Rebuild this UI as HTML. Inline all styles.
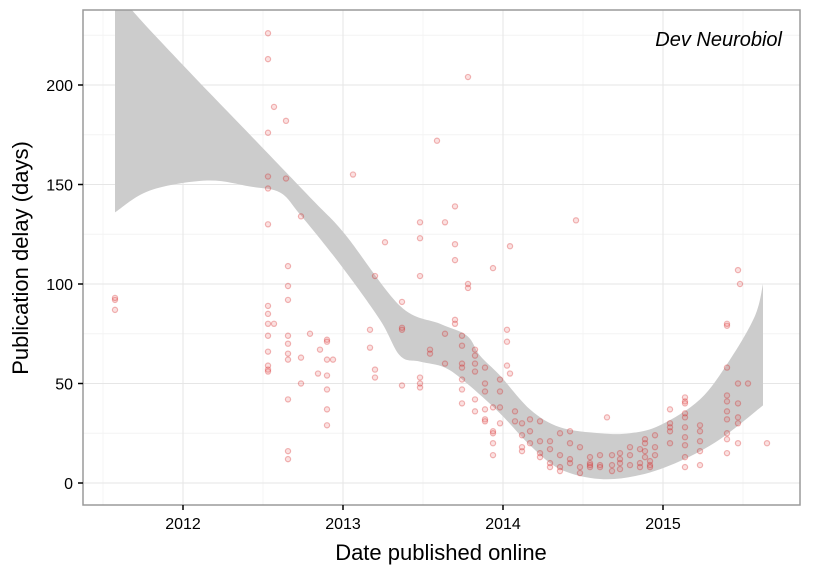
<!DOCTYPE html>
<html><head><meta charset="utf-8"><style>
body{margin:0;background:#fff;}
svg{display:block;font-family:"Liberation Sans",sans-serif;}
</style></head><body>
<svg id="chart" width="825" height="570">
<defs><clipPath id="clip"><rect x="83" y="10" width="717" height="495"/></clipPath></defs>
<g id="grid"></g>
<g id="band" clip-path="url(#clip)"></g>
<g id="pts"></g>
<rect x="83" y="10" width="717" height="495" fill="none" stroke="#9a9a9a" stroke-width="1.5"/>
<g id="axes"></g>
<text x="782" y="46" text-anchor="end" font-size="20" font-style="italic">Dev Neurobiol</text>
<text x="441" y="560" text-anchor="middle" font-size="22">Date published online</text>
<text transform="translate(28,258) rotate(-90)" text-anchor="middle" font-size="22">Publication delay (days)</text>
</svg>
<script>
const xTicks=[2012,2013,2014,2015];
const yTicks=[0,50,100,150,200];
function px(x){return (x-183)/160+2012;}
const upperPx=[115,128,183,250,313,345,400,440,467,480,500,530,560,600,630,660,700,730,755,763];
const bandUpper=[252,240,210,175,142,125,89,80,74,64,54,37,28,25,25,29,42,62,84,100];
const lowerPx=[115,150,207,250,280,300,340,380,400,420,445,467,500,530,560,600,640,680,720,763];
const bandLower=[136,147,152,149,146,135,110,82,64,61,58,50,35,19,7,2,4,11,22,39];
const upperYears=upperPx.map(px);
const lowerYears=lowerPx.map(px);
const ptX=[];const ptY=[];
const raw=[[115,[92,93,87]],[268,[226,213,176,154,148,130,89,85,80,74,57,56,59,66]],[274,[189,80]],[286,[182,153]],[288,[109,99,92,42,70,65,62,74,16,12]],[301,[134,63,50]],[310,[75]],[318,[55]],[320,[67]],[327,[72,71,62,54,47,37,29]],[333,[62]],[353,[155]],[370,[77,68]],[375,[104,57,53]],[385,[121]],[402,[91,78,77,49]],[420,[131,123,104,53,48,50]],[430,[67,65]],[437,[172]],[445,[131,75,60]],[455,[139,120,112,82,80]],[462,[74,69,60,58,52,47,40]],[468,[204,100,98]],[475,[67,64,56,36,42,60]],[485,[58,50,46,37,32,31]],[493,[108,38,26,25,20,14]],[500,[52,46,38,30]],[507,[77,71,59]],[510,[119,55]],[515,[36,31]],[522,[30,24,16,18]],[530,[32,26,20]],[540,[31,21,15,13]],[550,[21,17,10,8]],[560,[25,14,6,8]],[570,[26,20,10,12]],[576,[132]],[580,[18,8,5]],[590,[13,10,8,9]],[600,[14,9,8]],[607,[33]],[612,[14,9,6]],[620,[15,12,10,7]],[630,[18,14,9]],[640,[17,10,8]],[645,[22,20,16,13]],[650,[11,9,8]],[655,[24,18,14]],[670,[37,30,26,28,20]],[685,[43,41,40,35,33,28,23,19,13,8]],[700,[29,21,26,16,9]],[727,[80,79,58,44,41,36,32,25,22,15]],[738,[107,50,40,33,30,20]],[740,[100]],[748,[50]],[767,[20]]];
raw.forEach(r=>r[1].forEach(v=>{ptX.push(px(r[0]));ptY.push(v);}));
const NS="http://www.w3.org/2000/svg";
const L=83,R=800,T=10,B=505;
const sx=y=>183+(y-2012)*160;
const sy=v=>483-v*1.99;
function mk(tag,at,parent){const e=document.createElementNS(NS,tag);for(const k in at)e.setAttribute(k,at[k]);parent.appendChild(e);return e;}
const grid=document.getElementById('grid');
for(let i=-1;i<xTicks.length;i++){const mx=xTicks[0]+i+0.5;if(sx(mx)>L&&sx(mx)<R){const l=mk('line',{x1:sx(mx),x2:sx(mx),y1:T,y2:B,stroke:'#f4f4f4','stroke-width':1},grid);}}
for(let v=25;v<240;v+=50){const l=mk('line',{x1:L,x2:R,y1:sy(v),y2:sy(v),stroke:'#f4f4f4','stroke-width':1},grid);}
const axes=document.getElementById('axes');
xTicks.forEach(t=>{const l=mk('line',{x1:sx(t),x2:sx(t),y1:T,y2:B,stroke:'#e6e6e6','stroke-width':1},grid);
const k=mk('line',{x1:sx(t),x2:sx(t),y1:B,y2:B+5,stroke:'#000','stroke-width':1.5},axes);
const tx=mk('text',{x:sx(t),y:B+24,'text-anchor':'middle','font-size':16},axes);tx.textContent=t;});
yTicks.forEach(t=>{const l=mk('line',{x1:L,x2:R,y1:sy(t),y2:sy(t),stroke:'#e6e6e6','stroke-width':1},grid);
const k=mk('line',{x1:L-5,x2:L,y1:sy(t),y2:sy(t),stroke:'#000','stroke-width':1.5},axes);
const tx=mk('text',{x:L-10,y:sy(t)+6,'text-anchor':'end','font-size':16},axes);tx.textContent=t;});
function smooth(P,start){let d=start?'M'+P[0][0]+','+P[0][1]:'L'+P[0][0]+','+P[0][1];
for(let i=0;i<P.length-1;i++){const p0=P[i-1]||P[i],p1=P[i],p2=P[i+1],p3=P[i+2]||p2;
d+='C'+(p1[0]+(p2[0]-p0[0])/6)+','+(p1[1]+(p2[1]-p0[1])/6)+' '+(p2[0]-(p3[0]-p1[0])/6)+','+(p2[1]-(p3[1]-p1[1])/6)+' '+p2[0]+','+p2[1];}return d;}
const U=upperYears.map((y,i)=>[sx(y),sy(bandUpper[i])]);
const Lo=lowerYears.map((y,i)=>[sx(y),sy(bandLower[i])]).reverse();
const bp=mk('path',{d:smooth(U,true)+smooth(Lo,false)+'Z',fill:'#cccccc'},document.getElementById('band'));


const pts=document.getElementById('pts');
ptX.forEach((x,i)=>{const c=mk('circle',{cx:sx(x),cy:sy(ptY[i]),r:2.6,fill:'rgba(235,90,90,0.18)',stroke:'rgba(210,20,20,0.3)','stroke-width':1.2},pts);

});
</script>
</body></html>
